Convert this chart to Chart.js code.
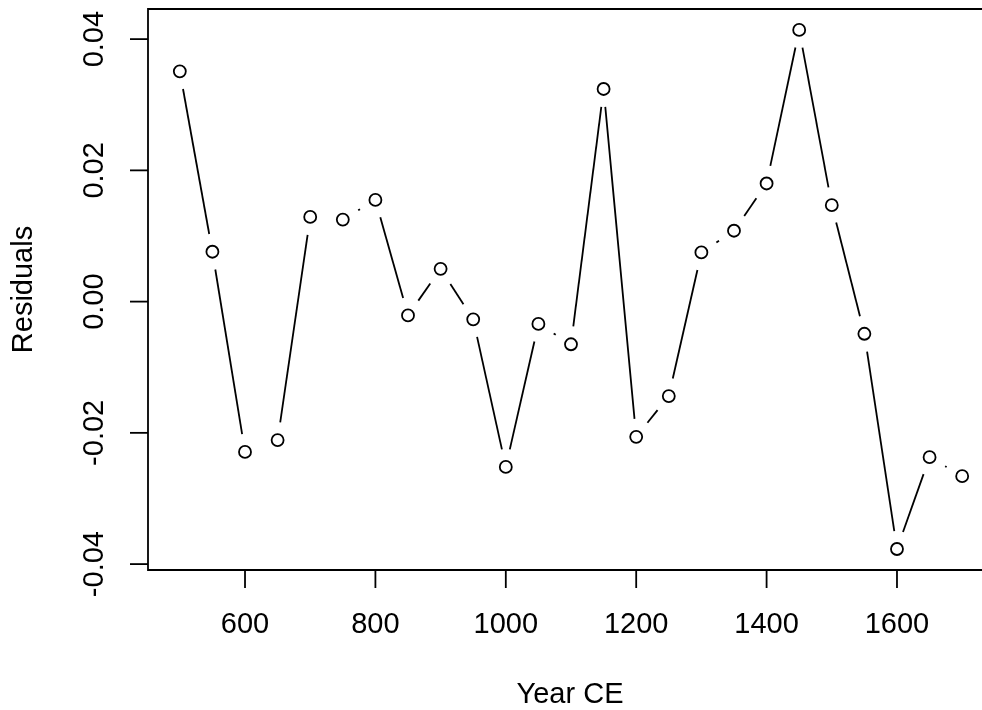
<!DOCTYPE html>
<html>
<head>
<meta charset="utf-8">
<title>Residuals by Year CE</title>
<script src="https://cdn.jsdelivr.net/npm/chart.js@4/dist/chart.umd.min.js"></script>
<style>
  html, body { margin: 0; padding: 0; background: #ffffff; overflow: hidden; }
  #wrap { width: 982px; height: 710px; }
  canvas { display: block; }
</style>
</head>
<body>
<div id="wrap"><canvas id="chart" width="982" height="710"></canvas></div>
<script>
// Years (CE) and model residuals
const years = [500, 550, 600, 650, 700, 750, 800, 850, 900, 950, 1000, 1050, 1100,
               1150, 1200, 1250, 1300, 1350, 1400, 1450, 1500, 1550, 1600, 1650, 1700];
const residuals = [0.0351, 0.0076, -0.0229, -0.0211, 0.0129, 0.0125, 0.0155, -0.0021,
                   0.0050, -0.0027, -0.0252, -0.0034, -0.0065, 0.0324, -0.0206, -0.0144,
                   0.0075, 0.0108, 0.0180, 0.0414, 0.0147, -0.0049, -0.0377, -0.0237, -0.0266];

// Axis ticks
const xTicks = [600, 800, 1000, 1200, 1400, 1600];
const xTickLabels = ['600', '800', '1000', '1200', '1400', '1600'];
const yTicks = [-0.04, -0.02, 0.00, 0.02, 0.04];
const yTickLabels = ['-0.04', '-0.02', '0.00', '0.02', '0.04'];

const xTitle = 'Year CE';
const yTitle = 'Residuals';

const FONT = '29px "Liberation Sans", Arial, Helvetica, sans-serif';
const INK = '#000000';

// Lines between consecutive points, leaving a gap around each point
const gappedLines = {
  id: 'gappedLines',
  afterDatasetsDraw(chart) {
    const pts = chart.getDatasetMeta(0).data;
    const gap = 18;
    const ctx = chart.ctx;
    ctx.save();
    ctx.strokeStyle = INK;
    ctx.lineWidth = 1.8;
    ctx.lineCap = 'butt';
    for (let i = 0; i < pts.length - 1; i++) {
      const a = pts[i], b = pts[i + 1];
      const dx = b.x - a.x, dy = b.y - a.y;
      const d = Math.hypot(dx, dy);
      if (d <= 2 * gap) continue;
      const ux = dx / d, uy = dy / d;
      ctx.beginPath();
      ctx.moveTo(a.x + ux * gap, a.y + uy * gap);
      ctx.lineTo(b.x - ux * gap, b.y - uy * gap);
      ctx.stroke();
    }
    ctx.restore();
  }
};

// Plot frame, tick marks, tick labels and axis titles
const frameAndAxes = {
  id: 'frameAndAxes',
  afterDraw(chart) {
    const ctx = chart.ctx;
    const area = chart.chartArea;
    const xs = chart.scales.x, ys = chart.scales.y;
    const tickLen = 18;
    ctx.save();
    ctx.strokeStyle = INK;
    ctx.fillStyle = INK;
    ctx.lineWidth = 1.8;

    // frame (its right side lies past the canvas edge)
    ctx.beginPath();
    ctx.moveTo(area.right + 5, area.top);
    ctx.lineTo(area.left, area.top);
    ctx.lineTo(area.left, area.bottom);
    ctx.lineTo(area.right + 5, area.bottom);
    ctx.stroke();

    ctx.font = FONT;

    // x axis ticks and labels
    ctx.textAlign = 'center';
    ctx.textBaseline = 'middle';
    xTicks.forEach((v, i) => {
      const px = xs.getPixelForValue(v);
      ctx.beginPath();
      ctx.moveTo(px, area.bottom);
      ctx.lineTo(px, area.bottom + tickLen);
      ctx.stroke();
      ctx.fillText(xTickLabels[i], px, 625);
    });

    // y axis ticks and rotated labels
    yTicks.forEach((v, i) => {
      const py = ys.getPixelForValue(v);
      ctx.beginPath();
      ctx.moveTo(area.left, py);
      ctx.lineTo(area.left - tickLen, py);
      ctx.stroke();
      ctx.save();
      ctx.translate(95, py);
      ctx.rotate(-Math.PI / 2);
      ctx.fillText(yTickLabels[i], 0, 0);
      ctx.restore();
    });

    // axis titles
    ctx.fillText(xTitle, 570, 695);
    ctx.save();
    ctx.translate(24, (area.top + area.bottom) / 2);
    ctx.rotate(-Math.PI / 2);
    ctx.fillText(yTitle, 0, 0);
    ctx.restore();

    ctx.restore();
  }
};

new Chart(document.getElementById('chart'), {
  type: 'scatter',
  data: {
    datasets: [{
      data: years.map((y, i) => ({ x: y, y: residuals[i] })),
      showLine: false,
      pointStyle: 'circle',
      pointRadius: 6,
      pointHoverRadius: 6,
      pointBorderWidth: 1.8,
      pointBorderColor: INK,
      pointBackgroundColor: '#ffffff'
    }]
  },
  options: {
    responsive: false,
    animation: false,
    devicePixelRatio: 1,
    layout: { autoPadding: false, padding: { left: 148, top: 9, right: 0, bottom: 140 } },
    plugins: { legend: { display: false }, tooltip: { enabled: false } },
    events: [],
    scales: {
      x: { type: 'linear', min: 451.2, max: 1730.4, display: false },
      y: { type: 'linear', min: -0.0409, max: 0.04459, display: false }
    }
  },
  plugins: [gappedLines, frameAndAxes]
});
</script>
</body>
</html>
